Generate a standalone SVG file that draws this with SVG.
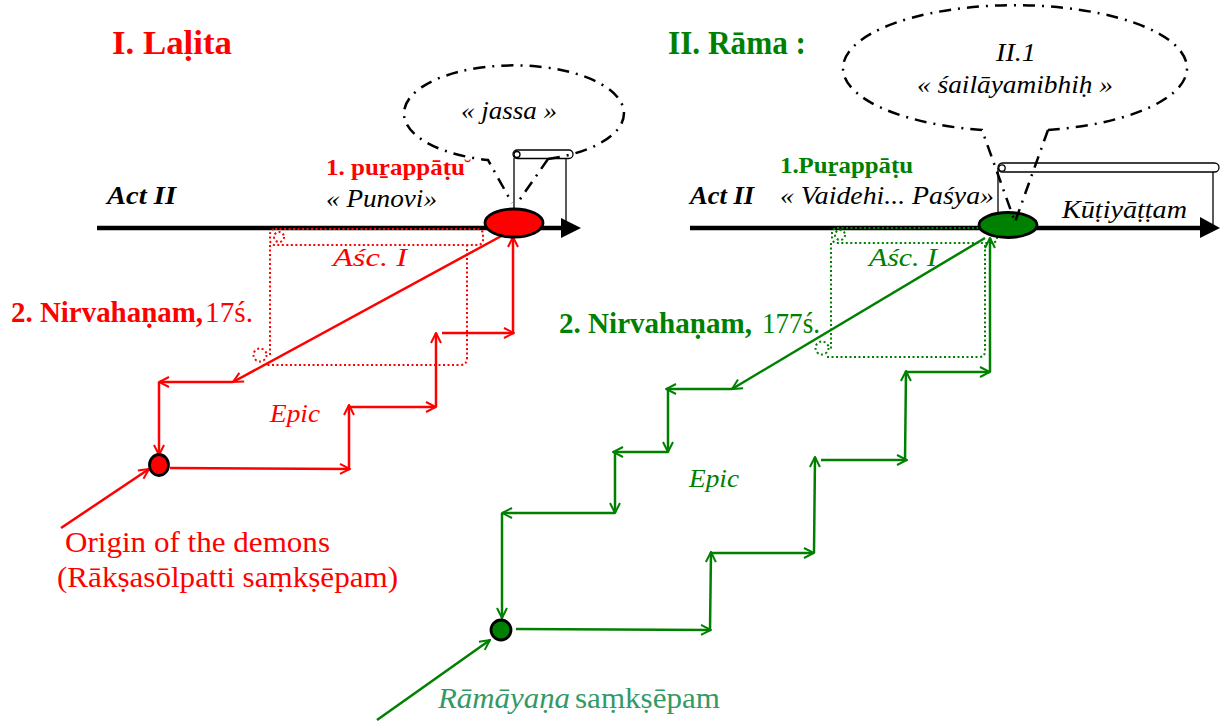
<svg xmlns="http://www.w3.org/2000/svg" width="1221" height="722" viewBox="0 0 1221 722">
<style>
.t{font-family:Liberation Serif, Tinos, Times New Roman, Times, Noto Serif, DejaVu Serif, serif}
.b{font-weight:bold}
.i{font-style:italic}
.red{fill:#ff0000}
.grn{fill:#008000}
.blk{fill:#000}
.cr{fill:none;stroke:#ff0000;stroke-width:2.5;marker-end:url(#ar)}
.cg{fill:none;stroke:#008000;stroke-width:2.5;marker-end:url(#ag)}
.dr{fill:none;stroke:#ff0000;stroke-width:2;stroke-dasharray:2 2.5}
.dg{fill:none;stroke:#008000;stroke-width:2;stroke-dasharray:2 2.5}
.bub{fill:none;stroke:#000;stroke-width:2.5;stroke-dasharray:12 7 2 7}
.scr{fill:#fff;stroke:#000;stroke-width:1.3}
.axis{stroke:#000;stroke-width:4.5}
.node{stroke:#000;stroke-width:2.8}
</style>
<defs>
<marker id="ar" viewBox="0 0 12 12" refX="11" refY="6" markerWidth="12" markerHeight="12" markerUnits="userSpaceOnUse" orient="auto"><path d="M1,1 L11,6 L1,11" fill="none" stroke="#ff0000" stroke-width="2"/></marker>
<marker id="ag" viewBox="0 0 12 12" refX="11" refY="6" markerWidth="12" markerHeight="12" markerUnits="userSpaceOnUse" orient="auto"><path d="M1,1 L11,6 L1,11" fill="none" stroke="#008000" stroke-width="2"/></marker>
</defs>

<g id="title-lalita"><text x="112" y="54" class="t b red" font-family="Liberation Serif, serif" font-size="33" textLength="120" lengthAdjust="spacingAndGlyphs">I. Laḷita</text></g>
<g id="title-rama"><text x="668" y="54" class="t b grn" font-family="Liberation Serif, serif" font-size="33" textLength="138" lengthAdjust="spacingAndGlyphs">II. Rāma :</text></g>

<g id="scroll-red">
<line x1="514" y1="158" x2="514" y2="209" stroke="#000" stroke-width="1.3"/>
<line x1="566" y1="158" x2="566" y2="226" stroke="#000" stroke-width="1.3"/>
<rect x="513" y="150" width="60" height="8.5" rx="4.2" class="scr"/>
<circle cx="517" cy="154.5" r="3" class="scr"/>
</g>
<g id="scroll-green">
<line x1="998" y1="168" x2="998" y2="220" stroke="#000" stroke-width="1.3"/>
<line x1="1213" y1="172" x2="1213" y2="226" stroke="#000" stroke-width="1.3"/>
<rect x="998" y="163" width="221" height="9" rx="4.5" class="scr"/>
<circle cx="1002" cy="168" r="3.2" class="scr"/>
</g>

<g id="axis-red">
<line x1="97" y1="228" x2="565" y2="228" class="axis"/>
<polygon points="561,218 581,228 561,238" fill="#000"/>
</g>
<g id="axis-green">
<line x1="690" y1="228" x2="1204" y2="228" class="axis"/>
<polygon points="1200,217 1220,228 1200,238" fill="#000"/>
</g>

<g id="asc-red">
<rect x="270" y="229" width="213" height="16" rx="5" class="dr"/>
<circle cx="279" cy="237" r="5" class="dr"/>
<path d="M270,245 L270,356 M263,365 L460,365 Q467,365 467,358 L467,245" class="dr"/>
<circle cx="260" cy="355" r="6.5" class="dr"/>
<text x="333" y="266" class="t i red" font-family="Liberation Serif, serif" font-size="26" textLength="74" lengthAdjust="spacingAndGlyphs">Aśc.  I</text>
</g>
<g id="asc-green">
<rect x="832" y="228" width="165" height="15" rx="5" class="dg"/>
<circle cx="840" cy="235" r="5" class="dg"/>
<path d="M831,243 L831,350 M827,357 L979,357 Q985,357 985,351 L985,243" class="dg"/>
<circle cx="822" cy="348" r="6.5" class="dg"/>
<text x="869" y="266" class="t i grn" font-family="Liberation Serif, serif" font-size="26" textLength="68" lengthAdjust="spacingAndGlyphs">Aśc. I</text>
</g>

<g id="connectors">
<path class="cr" d="M505,234 L233,382"/>
<path class="cr" d="M233,382 L159,382"/>
<path class="cr" d="M159,382 L159,455"/>
<path class="cr" d="M170,468 L350,469"/>
<path class="cr" d="M349,469 L349,405"/>
<path class="cr" d="M349,407 L436,407"/>
<path class="cr" d="M436,407 L436,333"/>
<path class="cr" d="M442,333 L514,333"/>
<path class="cr" d="M513,333 L513,237"/>
<path class="cr" d="M61,528 L149,469"/>

<path class="cg" d="M985,238 L732,389"/>
<path class="cg" d="M732,389 L666,389"/>
<path class="cg" d="M668,389 L668,452"/>
<path class="cg" d="M668,452 L613,452"/>
<path class="cg" d="M615,452 L615,513"/>
<path class="cg" d="M615,513 L502,513"/>
<path class="cg" d="M502,513 L502,618"/>
<path class="cg" d="M516,629 L711,630"/>
<path class="cg" d="M710,630 L711,552"/>
<path class="cg" d="M710,553 L814,553"/>
<path class="cg" d="M814,553 L815,457"/>
<path class="cg" d="M821,460 L907,460"/>
<path class="cg" d="M905,461 L906,371"/>
<path class="cg" d="M906,372 L990,372"/>
<path class="cg" d="M990,372 L990,238"/>
<path class="cg" d="M377,720 L490,640"/>
</g>

<g id="node-red-main"><ellipse cx="514" cy="223" rx="29" ry="14" fill="#ff0000" class="node"/></g>
<g id="node-green-main"><ellipse cx="1008" cy="225" rx="29" ry="12.5" fill="#008000" class="node"/></g>
<g id="node-red-origin"><ellipse cx="159" cy="465" rx="9.5" ry="10.5" fill="#ff0000" class="node"/></g>
<g id="node-green-origin"><ellipse cx="501" cy="630" rx="10" ry="10" fill="#008000" class="node"/></g>

<g id="bubble-jassa">
<path class="bub" d="M548,159 L516,205 M548,159 A110 48 0 1 0 488,160 L512,203"/>
<text x="509" y="119" text-anchor="middle" class="t i blk" font-family="Liberation Serif, serif" font-size="25" textLength="96" lengthAdjust="spacingAndGlyphs">« jassa »</text>
</g>
<g id="bubble-shaila">
<path class="bub" d="M1048,130 L1015,222 M1048,130 A172 63 0 1 0 982,130 L1015,222"/>
<text x="1016" y="61" text-anchor="middle" class="t i blk" font-family="Liberation Serif, serif" font-size="25" textLength="40" lengthAdjust="spacingAndGlyphs">II.1</text>
<text x="1015" y="93" text-anchor="middle" class="t i blk" font-family="Liberation Serif, serif" font-size="25" textLength="196" lengthAdjust="spacingAndGlyphs">« śailāyamibhiḥ »</text>
</g>

<g id="labels-red">
<text x="107" y="204" class="t b i blk" font-family="Liberation Serif, serif" font-size="26" textLength="69" lengthAdjust="spacingAndGlyphs">Act II</text>
<text x="326" y="175" class="t b red" font-family="Liberation Serif, serif" font-size="24" textLength="139" lengthAdjust="spacingAndGlyphs">1. puṟappāṭu</text>
<text x="464" y="174" class="t red" font-family="Liberation Serif, serif" font-size="22">˘</text>
<text x="326" y="207" class="t i blk" font-family="Liberation Serif, serif" font-size="25" textLength="111" lengthAdjust="spacingAndGlyphs">« Punovi»</text>
<text x="11" y="322" class="t red" font-family="Liberation Serif, serif" font-size="29"><tspan class="b" textLength="192" lengthAdjust="spacingAndGlyphs">2. Nirvahaṇam,</tspan><tspan x="205" textLength="48" lengthAdjust="spacingAndGlyphs">17ś.</tspan></text>
<text x="270" y="422" class="t i red" font-family="Liberation Serif, serif" font-size="26" textLength="50" lengthAdjust="spacingAndGlyphs">Epic</text>
<text x="65" y="552" class="t red" font-family="Liberation Serif, serif" font-size="29" textLength="265" lengthAdjust="spacingAndGlyphs">Origin of the demons</text>
<text x="57" y="587" class="t red" font-family="Liberation Serif, serif" font-size="29" textLength="341" lengthAdjust="spacingAndGlyphs">(Rākṣasōlpatti saṃkṣēpam)</text>
</g>
<g id="labels-green">
<text x="690" y="204" class="t b i blk" font-family="Liberation Serif, serif" font-size="26" textLength="64" lengthAdjust="spacingAndGlyphs">Act II</text>
<text x="780" y="173" class="t b grn" font-family="Liberation Serif, serif" font-size="24" textLength="133" lengthAdjust="spacingAndGlyphs">1.Puṟappāṭu</text>
<text x="780" y="204" class="t i blk" font-family="Liberation Serif, serif" font-size="25" textLength="214" lengthAdjust="spacingAndGlyphs">« Vaidehi... Paśya»</text>
<text x="1062" y="218" class="t i blk" font-family="Liberation Serif, serif" font-size="26" textLength="125" lengthAdjust="spacingAndGlyphs">Kūṭiyāṭṭam</text>
<text x="559" y="333" class="t grn" font-family="Liberation Serif, serif" font-size="29"><tspan class="b" textLength="193" lengthAdjust="spacingAndGlyphs">2. Nirvahaṇam,</tspan><tspan x="762" textLength="58" lengthAdjust="spacingAndGlyphs">177ś.</tspan></text>
<text x="689" y="487" class="t i grn" font-family="Liberation Serif, serif" font-size="26" textLength="50" lengthAdjust="spacingAndGlyphs">Epic</text>
<text x="438" y="708" class="t" fill="#339966" font-family="Liberation Serif, serif" font-size="29"><tspan class="i" textLength="132" lengthAdjust="spacingAndGlyphs">Rāmāyaṇa</tspan><tspan x="575" textLength="145" lengthAdjust="spacingAndGlyphs">saṃkṣēpam</tspan></text>
</g>
</svg>
